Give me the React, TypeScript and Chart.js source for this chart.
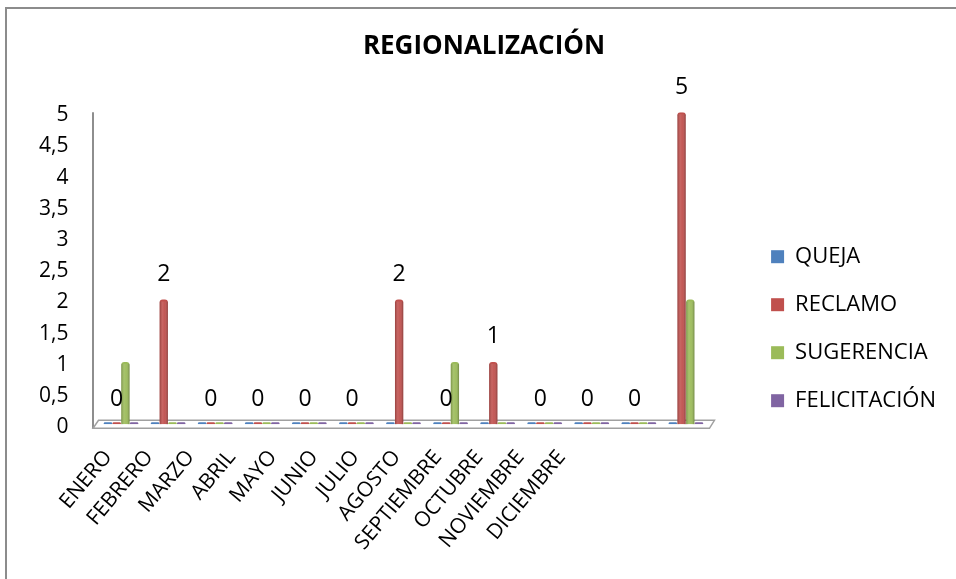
import React, { useEffect, useRef } from 'react';
import { Chart, registerables } from 'chart.js';

Chart.register(...registerables);

// Months shown under the floor
const MONTHS = ['ENERO', 'FEBRERO', 'MARZO', 'ABRIL', 'MAYO', 'JUNIO', 'JULIO', 'AGOSTO', 'SEPTIEMBRE', 'OCTUBRE', 'NOVIEMBRE', 'DICIEMBRE'];
// Twelve months plus an unlabelled totals group at the end
const CATEGORIES = [...MONTHS, ''];

const QUEJA = [0, 0, 0, 0, 0, 0, 0, 0, 0, 0, 0, 0, 0];
const RECLAMO = [0, 2, 0, 0, 0, 0, 2, 0, 1, 0, 0, 0, 5];
const SUGERENCIA = [1, 0, 0, 0, 0, 0, 0, 1, 0, 0, 0, 0, 2];
const FELICITACION = [0, 0, 0, 0, 0, 0, 0, 0, 0, 0, 0, 0, 0];

const Y_TICKS = [0, 0.5, 1, 1.5, 2, 2.5, 3, 3.5, 4, 4.5, 5];

const FONT = "'Open Sans', 'Liberation Sans', sans-serif";

// one point per group, placed on the group's index
const toPoints = (values: number[]) => values.map((y, x) => ({ x, y }));

// Outer frame of the chart object
const framePlugin = {
  id: 'frame',
  beforeDraw(chart: any) {
    const { ctx } = chart;
    ctx.save();
    ctx.fillStyle = '#ffffff';
    ctx.fillRect(0, 0, chart.width, chart.height);
    ctx.strokeStyle = '#8c8c8c';
    ctx.lineWidth = 2;
    ctx.strokeRect(6, 8, chart.width + 40, chart.height + 40);
    ctx.restore();
  },
};

// Left wall line and the thin 3-D floor under the columns
const floorPlugin = {
  id: 'floor',
  beforeDatasetsDraw(chart: any) {
    const { ctx, chartArea } = chart;
    const xs = chart.scales.x;
    const base = chart.scales.y.getPixelForValue(0);
    const L = xs.getPixelForValue(xs.min);
    const R = xs.getPixelForValue(CATEGORIES.length - 0.5);
    ctx.save();
    ctx.strokeStyle = '#8e8e8e';
    ctx.lineWidth = 2;
    ctx.beginPath();
    ctx.moveTo(L - 4.5, chartArea.top);
    ctx.lineTo(L - 4.5, base + 4);
    ctx.stroke();

    ctx.beginPath();
    ctx.moveTo(L - 4.5, base + 4);
    ctx.lineTo(R, base + 4);
    ctx.lineTo(R + 5, base - 4);
    ctx.lineTo(L + 1, base - 4);
    ctx.closePath();
    ctx.fillStyle = '#ffffff';
    ctx.fill();
    ctx.strokeStyle = '#a0a0a0';
    ctx.lineWidth = 1.5;
    ctx.stroke();
    ctx.restore();
  },
};

// Cylinder shading on the columns, then value labels above RECLAMO
const columnFinishPlugin = {
  id: 'columnFinish',
  afterDatasetsDraw(chart: any) {
    const { ctx } = chart;
    ctx.save();
    chart.data.datasets.forEach((_: any, di: number) => {
      chart.getDatasetMeta(di).data.forEach((bar: any) => {
        const { x, y, base, width } = bar.getProps(['x', 'y', 'base', 'width'], true);
        if (base - y < 4) return;
        const g = ctx.createLinearGradient(x - width / 2, 0, x + width / 2, 0);
        g.addColorStop(0, 'rgba(0,0,0,0.22)');
        g.addColorStop(0.35, 'rgba(255,255,255,0.12)');
        g.addColorStop(0.6, 'rgba(255,255,255,0.05)');
        g.addColorStop(1, 'rgba(0,0,0,0.28)');
        ctx.fillStyle = g;
        ctx.fillRect(x - width / 2, y + 2, width, base - y - 2);
      });
    });

    const meta = chart.getDatasetMeta(1);
    const yScale = chart.scales.y;
    ctx.fillStyle = '#000';
    ctx.font = `23px ${FONT}`;
    ctx.textAlign = 'center';
    ctx.textBaseline = 'middle';
    meta.data.forEach((bar: any, i: number) => {
      const v = RECLAMO[i];
      ctx.fillText(String(v), bar.x, yScale.getPixelForValue(v) - 25);
    });
    ctx.restore();
  },
};

export default function App() {
  const ref = useRef<HTMLCanvasElement>(null);

  useEffect(() => {
    const canvas = ref.current;
    if (!canvas) return;
    Chart.defaults.font.family = FONT;
    Chart.defaults.color = '#000';

    const chart = new Chart(canvas, {
      type: 'bar',
      data: {
        datasets: [
          { label: 'QUEJA', data: toPoints(QUEJA), backgroundColor: '#4F81BD' },
          { label: 'RECLAMO', data: toPoints(RECLAMO), backgroundColor: '#C0504D' },
          { label: 'SUGERENCIA', data: toPoints(SUGERENCIA), backgroundColor: '#9BBB59' },
          { label: 'FELICITACIÓN', data: toPoints(FELICITACION), backgroundColor: '#8064A2' },
        ],
      },
      options: {
        animation: false,
        responsive: true,
        maintainAspectRatio: false,
        layout: { padding: { left: 22, right: 10, top: 0, bottom: 3 } },
        datasets: {
          bar: {
            categoryPercentage: 0.74,
            barPercentage: 0.95,
            minBarLength: 2,
            borderWidth: 0,
            borderRadius: { topLeft: 3, topRight: 3 },
            borderSkipped: 'bottom',
          },
        },
        scales: {
          x: {
            type: 'linear',
            display: false,
            offset: false,
            min: -0.5,
            max: 13.257,
            afterBuildTicks: (scale: any) => {
              scale.ticks = CATEGORIES.map((_, i) => ({ value: i }));
            },
          },
          months: {
            type: 'linear',
            axis: 'x',
            position: 'bottom',
            offset: false,
            min: -0.256,
            max: 15.45,
            grid: { display: false, drawTicks: false, offset: false },
            border: { display: false },
            afterBuildTicks: (scale: any) => {
              scale.ticks = MONTHS.map((_, i) => ({ value: i }));
            },
            ticks: {
              autoSkip: false,
              minRotation: 50,
              maxRotation: 50,
              padding: 21,
              font: { size: 21 },
              callback: (v: any) => MONTHS[Math.round(Number(v))] ?? '',
            },
          },
          y: {
            min: 0,
            max: 5,
            grid: { display: false, drawTicks: false },
            border: { display: false },
            afterBuildTicks: (scale: any) => {
              scale.ticks = Y_TICKS.map((v) => ({ value: v }));
            },
            afterFit: (scale: any) => {
              scale.width = 75.5;
            },
            ticks: {
              padding: 29,
              labelOffset: 3,
              font: { size: 21 },
              callback: (v: any) => String(v).replace('.', ','),
            },
          },
        },
        plugins: {
          title: {
            display: true,
            text: 'REGIONALIZACIÓN',
            color: '#000',
            font: { size: 26, weight: 'bold' },
            padding: { top: 31, bottom: 50 },
          },
          legend: {
            position: 'right',
            title: { display: true, text: '', padding: { top: 67, bottom: 0 } },
            labels: {
              boxWidth: 13,
              boxHeight: 13,
              padding: 26,
              font: { size: 22 },
              color: '#000',
            },
          },
          tooltip: { enabled: false },
        },
      },
      plugins: [framePlugin, floorPlugin, columnFinishPlugin],
    });

    return () => chart.destroy();
  }, []);

  return (
    <div style={{ position: 'fixed', left: 0, top: 0, width: 956, height: 579, background: '#fff' }}>
      <canvas ref={ref} />
    </div>
  );
}
